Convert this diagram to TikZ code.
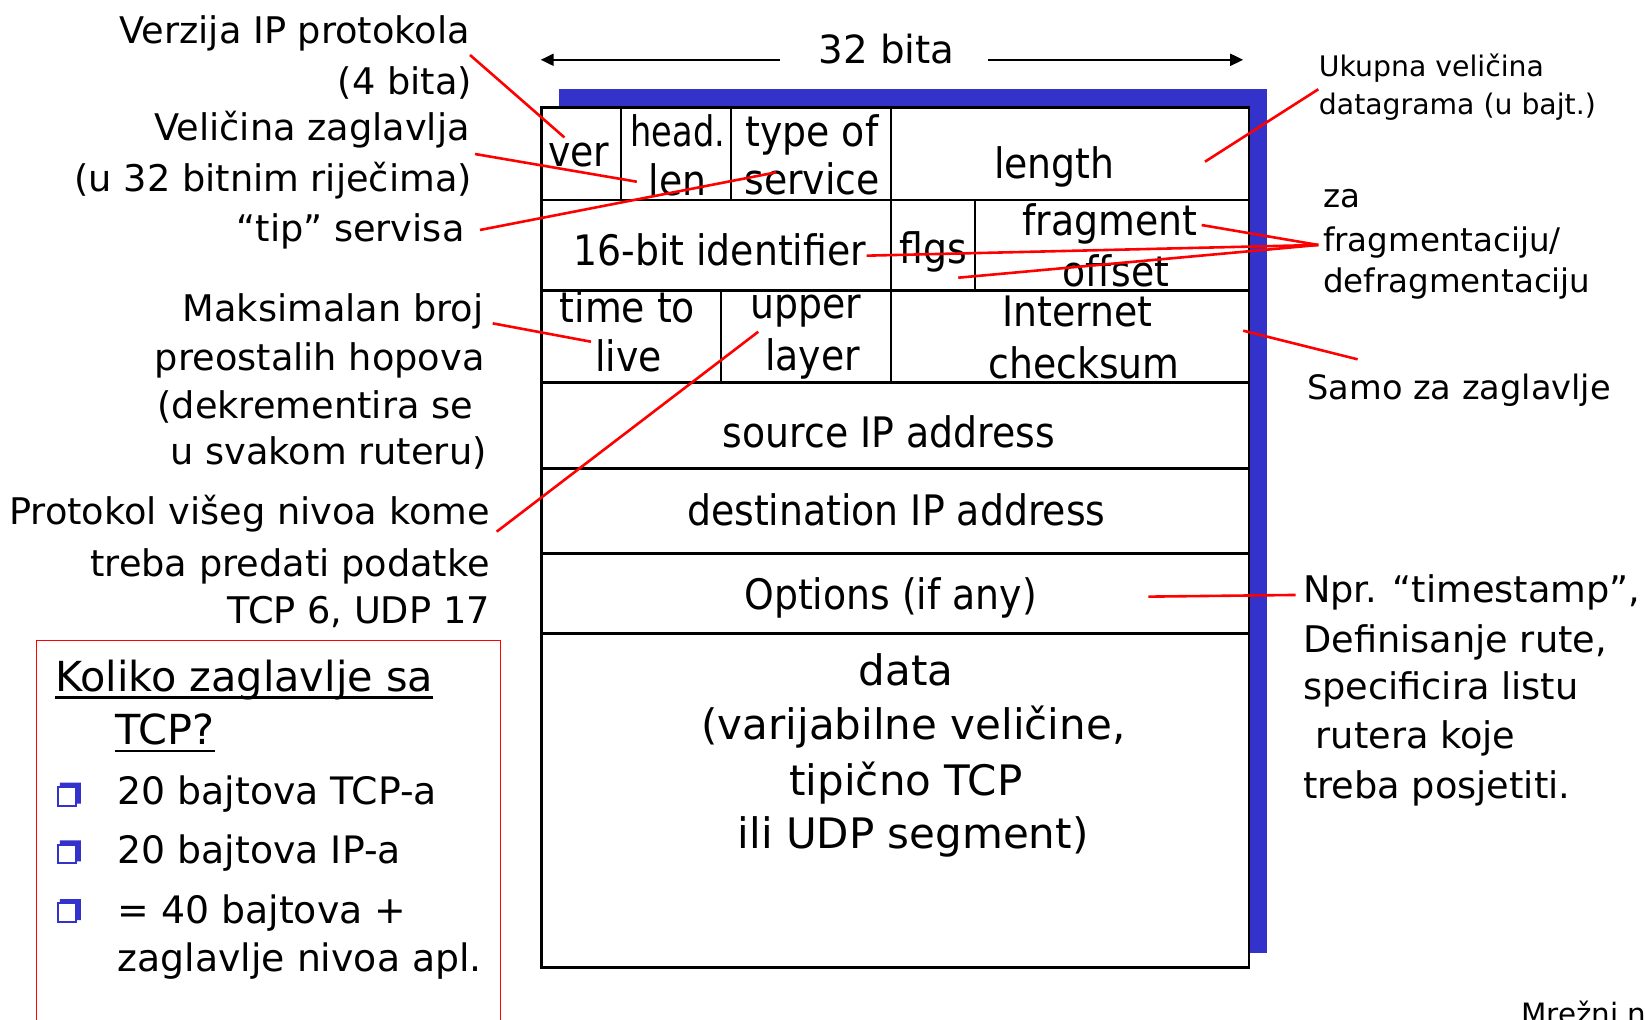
\documentclass[tikz,border=0pt]{standalone}
\usepackage{fontspec}
\setmainfont{DejaVu Sans}
\newfontfamily\tabfam{DejaVu Sans}[FakeStretch=0.9]
\newfontfamily\headfam{DejaVu Sans}[FakeStretch=0.8]
\usetikzlibrary{arrows.meta}
\definecolor{shadowblue}{RGB}{51,51,204}
\begin{document}
\begin{tikzpicture}[x=1.04911pt,y=-1.04911pt,
  lbl/.style={inner sep=0pt, font=\fontsize{36.7}{44}\selectfont},
  lblR/.style={lbl, anchor=base east},
  lblL/.style={lbl, anchor=base west},
  uk/.style={inner sep=0pt, anchor=base west, font=\fontsize{28.3}{34}\selectfont},
  fr/.style={inner sep=0pt, anchor=base west, font=\fontsize{32.5}{39}\selectfont},
  sm/.style={inner sep=0pt, anchor=base west, font=\fontsize{33.6}{40}\selectfont},
  tcell/.style={inner sep=0pt, anchor=base, font=\tabfam\fontsize{42}{50}\selectfont},
  hcell/.style={inner sep=0pt, anchor=base, font=\headfam\fontsize{42}{50}\selectfont},
  dcell/.style={inner sep=0pt, anchor=base, font=\fontsize{42}{50}\selectfont},
  boxtitle/.style={inner sep=0pt, anchor=base west, font=\fontsize{41.4}{50}\selectfont},
  boxitem/.style={inner sep=0pt, anchor=base west, font=\fontsize{37.8}{45}\selectfont},
  outer/.style={draw=black, line width=2.8pt},
  rowline/.style={draw=black, line width=2.6pt},
  colline/.style={draw=black, line width=2.2pt},
  redline/.style={draw=red, line width=2.6pt},
  dimarrow/.style={draw=black, line width=2pt, -{Triangle[length=13pt,width=12pt]}},
  bulletsq/.style={fill=shadowblue}
]
\clip (0,0) rectangle (1568,972);
\fill[white] (0,0) rectangle (1568,972);

% ---------- 32 bita dimension ----------
\node[inner sep=0pt, anchor=base, font=\fontsize{38.8}{46}\selectfont] (bits) at (845,60.4) {32 bita};
\coordinate (arrLs) at (743.5,57);
\coordinate (arrLe) at (515.4,57);
\coordinate (arrRs) at (942,57);
\coordinate (arrRe) at (1185,57);
\draw[dimarrow] (arrLs) -- (arrLe);
\draw[dimarrow] (arrRs) -- (arrRe);

% ---------- table ----------
\fill[shadowblue] (532.8,84.8) rectangle (1207.4,908.1);
\filldraw[fill=white, outer] (516.5,102.5) rectangle (1190.5,922);
\foreach \yy in {190.6,277,364.8,446.5,527.8,603.7}
  \draw[rowline] (516.5,\yy) -- (1190.5,\yy);
\draw[colline] (591.6,102.5) -- (591.6,190.6);
\draw[colline] (696.5,102.5) -- (696.5,190.6);
\draw[colline] (849,102.5) -- (849,364.8);
\draw[colline] (929.4,190.6) -- (929.4,277);
\draw[colline] (687,277) -- (687,364.8);

% cell texts
\node[tcell] (ver) at (551.5,159) {ver};
\node[hcell] (head) at (646,139.2) {head.};
\node[tcell] (len) at (646,186) {len};
\node[tcell] (tos1) at (774,139.2) {type of};
\node[tcell] (tos2) at (774,185) {service};
\node[tcell] (length) at (1005,170) {length};
\node[tcell] (ident) at (686,252.6) {16-bit identifier};
\node[tcell] (flgs) at (889.5,251) {flgs};
\node[tcell] (frag1) at (1058,224) {fragment};
\node[tcell] (frag2) at (1063.6,273.3) {offset};
\node[tcell] (ttl1) at (598,307.6) {time to};
\node[tcell] (ttl2) at (599,354.3) {live};
\node[tcell] (up1) at (768,303.5) {upper};
\node[tcell] (up2) at (774.5,352.7) {layer};
\node[tcell] (cs1) at (1027,311.4) {Internet};
\node[tcell] (cs2) at (1033.4,360.6) {checksum};
\node[tcell] (src) at (847.2,426.8) {source IP address};
\node[tcell] (dst) at (854.3,500.5) {destination IP address};
\node[tcell] (opt) at (848.9,580.7) {Options (if any)};
\node[dcell] (data1) at (863.6,653.7) {data};
\node[dcell] (data2) at (870.7,704.8) {(varijabilne veličine,};
\node[dcell] (data3) at (863.6,758.4) {tipično TCP};
\node[dcell] (data4) at (870.3,808.8) {ili UDP segment)};

% ---------- left labels ----------
\node[lblR] (l1) at (448,41.3) {Verzija IP protokola};
\node[lblR] (l2) at (450,89.6) {(4 bita)};
\node[lblR] (l3) at (448,133.5) {Veličina zaglavlja};
\node[lblR] (l4) at (450,182.7) {(u 32 bitnim riječima)};
\node[lblR] (l5) at (443,230) {“tip” servisa};
\node[lblR] (m1) at (461,306) {Maksimalan broj};
\node[lblR] (m2) at (462,352.7) {preostalih hopova};
\node[lblR] (m3) at (451,398.8) {(dekrementira se};
\node[lblR] (m4) at (464,443) {u svakom ruteru)};
\node[lblR] (p1) at (467,500.4) {Protokol višeg nivoa kome};
\node[lblR] (p2) at (467,549.7) {treba predati podatke};
\node[lblR] (p3) at (467,594) {TCP 6, UDP 17};

% ---------- right labels ----------
\node[uk] (u1) at (1257,73) {Ukupna veličina};
\node[uk] (u2) at (1257,109) {datagrama (u bajt.)};
\node[fr] (f1) at (1261,198) {za};
\node[fr] (f2) at (1261,240) {fragmentaciju/};
\node[fr] (f3) at (1261,279) {defragmentaciju};
\node[sm] (s1) at (1246,381) {Samo za zaglavlje};
\node[lblL] (n1) at (1242,574) {Npr. “timestamp”,};
\node[lblL] (n2) at (1242,622) {Definisanje rute,};
\node[lblL] (n3) at (1242,667) {specificira listu};
\node[lblL] (n4) at (1254,713) {rutera koje};
\node[lblL] (n5) at (1242,761) {treba posjetiti.};

% ---------- question box ----------
\draw[red, line width=1.3pt] (35,610.6) rectangle (477,1000);
\node[boxtitle] (k1) at (52.5,659) {Koliko zaglavlje sa};
\node[boxtitle] (k2) at (110,710) {TCP?};
\draw[line width=2.6pt] ([yshift=-6.3pt]k1.base west) -- ([yshift=-6.3pt]k1.base east);
\draw[line width=2.6pt] ([yshift=-6.3pt]k2.base west) -- ([yshift=-6.3pt]k2.base east);
\foreach \by in {746,801,857}{
  \fill[bulletsq] (57,\by) -- (77,\by) -- (77,\by+20) -- (72,\by+20) -- (72,\by+4) -- (57,\by+4) -- cycle;
  \draw[shadowblue, line width=2pt] (55,\by+4) rectangle (72,\by+22);
}
\node[boxitem] (b1) at (112,767) {20 bajtova TCP-a};
\node[boxitem] (b2) at (112,823) {20 bajtova IP-a};
\node[boxitem] (b3) at (112,880) {= 40 bajtova +};
\node[boxitem] (b4) at (112,926) {zaglavlje nivoa apl.};

% footer (cut off by the page edge, as in the reference)
\node[inner sep=0pt, anchor=base west, font=\fontsize{29.4}{35}\selectfont] (foot) at (1450,976.5) {Mrežni nivo};

% ---------- red pointer lines ----------
\coordinate (r1a) at (448,52.4);   \coordinate (r1b) at (538,131);
\coordinate (r2a) at (452.8,146.8); \coordinate (r2b) at (607,173.2);
\coordinate (r3a) at (457.5,219.2); \coordinate (r3b) at (739.7,164.3);
\coordinate (r4a) at (469.6,308.2); \coordinate (r4b) at (563.3,325.7);
\coordinate (r5a) at (473.4,506.8); \coordinate (r5b) at (722.8,316.2);
\coordinate (r6a) at (1256.6,85.1); \coordinate (r6b) at (1148.6,154.1);
\coordinate (r7a) at (1256.6,233.5);
\coordinate (r7b) at (1145.4,214.5);
\coordinate (r7c) at (826,243.7);
\coordinate (r7d) at (913.4,264.7);
\coordinate (r8a) at (1294.1,342.5); \coordinate (r8b) at (1185,315.2);
\coordinate (r9a) at (1094.6,568.7); \coordinate (r9b) at (1235,567.1);
\draw[redline] (r1a) -- (r1b);
\draw[redline] (r2a) -- (r2b);
\draw[redline] (r3a) -- (r3b);
\draw[redline] (r4a) -- (r4b);
\draw[redline] (r5a) -- (r5b);
\draw[redline] (r6a) -- (r6b);
\draw[redline] (r7a) -- (r7b);
\draw[redline] (r7a) -- (r7c);
\draw[redline] (r7a) -- (r7d);
\draw[redline] (r8a) -- (r8b);
\draw[redline] (r9a) -- (r9b);
\end{tikzpicture}
\end{document}
